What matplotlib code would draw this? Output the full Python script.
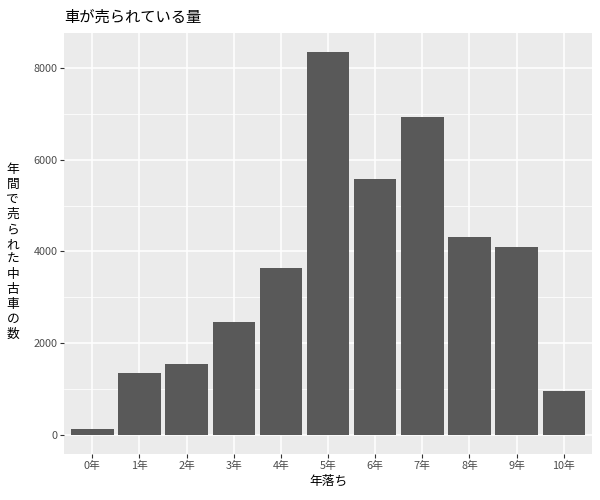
import matplotlib
matplotlib.use("Agg")
import matplotlib.pyplot as plt
from matplotlib.ticker import MultipleLocator

plt.rcParams['font.family'] = ['Noto Sans CJK JP', 'DejaVu Sans']

categories = ["0年", "1年", "2年", "3年", "4年", "5年", "6年", "7年", "8年", "9年", "10年"]
values = [131, 1351, 1547, 2462, 3639, 8346, 5578, 6929, 4314, 4097, 959]
yticks = [0, 2000, 4000, 6000, 8000]
title = "車が売られている量"
xlabel = "年落ち"
ylabel = "年間で売られた中古車の数"

fig = plt.figure(figsize=(6, 5), dpi=100)
ax = fig.add_axes([0.1067, 0.092, 0.88, 0.842])
ax.set_facecolor("#EBEBEB")

x = list(range(len(categories)))
ax.bar(x, values, width=0.9, color="#595959", zorder=3)

vmax = max(values)
ax.set_ylim(-0.05 * vmax, vmax * 1.05)
ax.set_xlim(-0.6, len(categories) - 0.4)

ax.set_yticks(yticks)
ax.yaxis.set_minor_locator(MultipleLocator(1000))
ax.set_xticks(x)
ax.set_xticklabels(categories)

ax.grid(which="major", color="white", linewidth=1.1, zorder=0)
ax.grid(which="minor", axis="y", color="white", linewidth=0.55, zorder=0)
ax.set_axisbelow(True)
for s in ax.spines.values():
    s.set_visible(False)

ax.tick_params(axis="both", which="major", length=2.75, width=0.8, color="#333333",
               labelsize=7.8, labelcolor="#4D4D4D", pad=2)
ax.tick_params(axis="both", which="minor", length=0)

ax.set_title(title, loc="left", fontsize=11, color="black", pad=8)
ax.set_xlabel(xlabel, fontsize=9.2, color="black", labelpad=3)
ax.set_ylabel("\n".join(ylabel), rotation=0, fontsize=9.2, color="black",
              va="center", ha="center", linespacing=1.2)
ax.yaxis.set_label_coords(-0.097, 0.48)

fig.savefig("out.png", dpi=100)
